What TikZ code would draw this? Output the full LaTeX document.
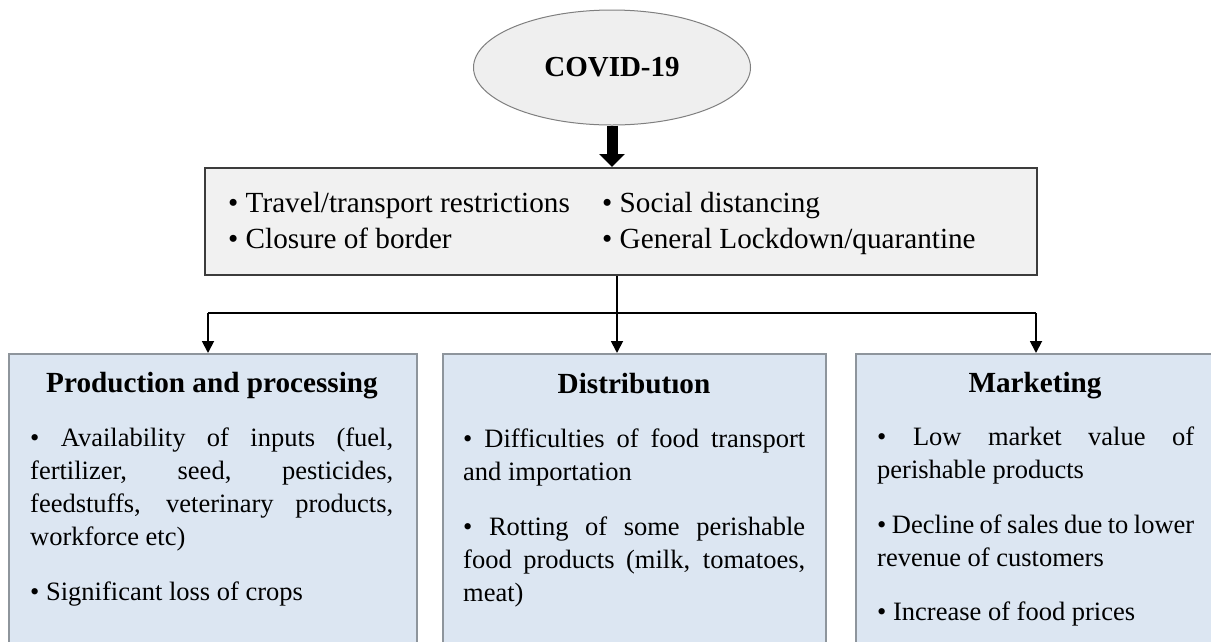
\documentclass[tikz,border=0pt]{standalone}
\usepackage{fontspec}
\setmainfont{Liberation Serif}
\usetikzlibrary{arrows.meta,shapes.geometric}
\definecolor{boxblue}{HTML}{DCE6F2}
\definecolor{boxblueline}{HTML}{8E959C}
\definecolor{midfill}{HTML}{F1F1F1}
\definecolor{midline}{HTML}{3C3C3C}
\definecolor{ellfill}{HTML}{EFEFEF}
\definecolor{ellline}{HTML}{7F7F7F}
\hyphenpenalty=10000
\exhyphenpenalty=10000
\tolerance=9999
\hbadness=10000
\begin{document}
\begin{tikzpicture}[x=1pt,y=-1pt,
  ellnode/.style={ellipse, draw=ellline, fill=ellfill, line width=1pt, inner sep=0pt,
    minimum width=277pt, minimum height=115pt, font=\fontsize{29}{35}\selectfont\bfseries},
  midbox/.style={rectangle, draw=midline, fill=midfill, line width=2pt, inner sep=0pt,
    minimum width=832pt, minimum height=107pt},
  lowbox/.style={rectangle, draw=boxblueline, fill=boxblue, line width=2pt, inner sep=0pt, anchor=north west},
  midtext/.style={inner sep=0pt, anchor=base west, font=\fontsize{29.2}{36}\selectfont},
  headtext/.style={inner sep=0pt, anchor=base, font=\fontsize{29.2}{35}\selectfont\bfseries},
  bodytext/.style={inner sep=0pt, anchor=base west, align=justify, font=\fontsize{26.5}{33.3}\selectfont},
  conn/.style={draw=black, line width=1.8pt},
  connarrow/.style={conn, -{Triangle[length=12pt,width=12pt]}},
  bigarrow/.style={draw=black, line width=11pt, -{Triangle[length=13pt,width=25pt]}}
]
\useasboundingbox (0,0) rectangle (1211,641);
\clip (0,0) rectangle (1211,641);

% top ellipse
\node[ellnode] (covid) at (612,67.5) {COVID-19};

% measures box
\node[midbox] (meas) at (621,221.5) {};
\node[midtext] (m1) at (228,212) {• Travel/transport restrictions};
\node[midtext] (m2) at (228,248) {• Closure of border};
\node[midtext] (m3) at (602,212) {• Social distancing};
\node[midtext] (m4) at (602,248) {• General Lockdown/quarantine};

% lower boxes
\node[lowbox, minimum width=408pt, minimum height=320pt] (prod) at (8,353) {};
\node[lowbox, minimum width=383pt, minimum height=320pt] (dist) at (442,353) {};
\node[lowbox, minimum width=360pt, minimum height=320pt] (mark) at (855,353) {};

\node[headtext] (prodh) at (212,392) {Production and processing};
\node[headtext] (disth) at (634,393) {Distributıon};
\node[headtext] (markh) at (1035,392) {Marketing};

\node[bodytext, text width=363pt] (p1) at (30,446) {• Availability of inputs (fuel,\linebreak fertilizer, seed, pesticides,\linebreak feedstuffs, veterinary products,\linebreak workforce etc)};
\node[bodytext, text width=363pt] (p2) at (30,600) {• Significant loss of crops};

\node[bodytext, text width=342pt] (d1) at (463,447) {• Difficulties of food transport\linebreak and importation};
\node[bodytext, text width=342pt] (d2) at (463,535) {• Rotting of some perishable\linebreak food products (milk, tomatoes,\linebreak meat)};

\node[bodytext, text width=317pt] (k1) at (877,445) {• Low market value of\linebreak perishable products};
\node[bodytext, text width=317pt] (k2) at (877,533) {• Decline of sales due to lower\linebreak revenue of customers};
\node[bodytext, text width=317pt] (k3) at (877,620) {• Increase of food prices};

% connectors
\draw[bigarrow] (covid.south) -- (covid.south |- meas.north);
\coordinate (split) at (617,313);
\coordinate (bl) at (208,313);
\coordinate (br) at (1036,313);
\draw[conn] (split |- meas.south) -- (split);
\draw[conn] (bl) -- (br);
\draw[connarrow] (split) -- (split |- dist.north);
\draw[connarrow] (bl) -- (bl |- prod.north);
\draw[connarrow] (br) -- (br |- mark.north);
\end{tikzpicture}
\end{document}
